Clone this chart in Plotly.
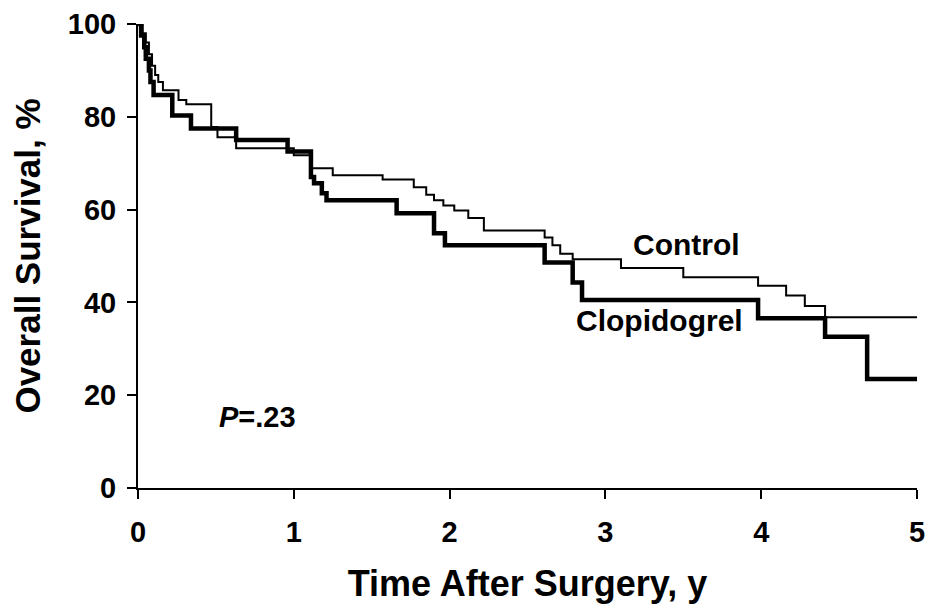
import plotly.graph_objects as go

# Kaplan-Meier step data (time in years, survival %)
control_t = [0, 0.03, 0.05, 0.07, 0.09, 0.11, 0.13, 0.16, 0.26, 0.31, 0.47, 0.51, 0.63,
             1.0, 1.11, 1.25, 1.57, 1.77, 1.85, 1.9, 1.96, 2.03, 2.12, 2.22, 2.61, 2.66,
             2.71, 2.79, 3.1, 3.5, 3.98, 4.16, 4.28, 4.41, 5.0]
control_s = [100, 98, 96, 93.5, 91, 89, 87.5, 85.7, 83.6, 82.7, 77.8, 75.6, 73.2,
             71.7, 68.9, 67.4, 66.5, 64.8, 63.2, 62, 60.9, 59.8, 58.2, 55.5, 54, 52.3,
             50.5, 49.3, 47.4, 45.4, 43.6, 41.5, 39.2, 36.8, 36.8]

clop_t = [0, 0.02, 0.04, 0.05, 0.07, 0.08, 0.10, 0.22, 0.34, 0.63, 0.96, 1.11, 1.13,
          1.18, 1.21, 1.66, 1.9, 1.97, 2.61, 2.79, 2.85, 3.98, 4.41, 4.68, 5.0]
clop_s = [100, 97.5, 95, 92.5, 90, 87.5, 84.7, 80.3, 77.5, 75, 72.5, 67, 65.7,
          63.5, 62, 59.2, 54.9, 52.3, 48.6, 44.3, 40.5, 36.6, 32.6, 23.5, 23.5]

x_ticks = [0, 1, 2, 3, 4, 5]
y_ticks = [0, 20, 40, 60, 80, 100]

FONT = "Liberation Sans, Arial, sans-serif"

fig = go.Figure()
fig.add_trace(go.Scatter(x=control_t, y=control_s, mode="lines", line_shape="hv",
                         line=dict(color="black", width=2), name="Control", cliponaxis=False))
fig.add_trace(go.Scatter(x=clop_t, y=clop_s, mode="lines", line_shape="hv",
                         line=dict(color="black", width=4.5), name="Clopidogrel", cliponaxis=False))

fig.add_annotation(x=3.52, y=52.4, text="<b>Control</b>", showarrow=False,
                   font=dict(family=FONT, size=30, color="black"))
fig.add_annotation(x=3.35, y=36.0, text="<b>Clopidogrel</b>", showarrow=False,
                   font=dict(family=FONT, size=30, color="black"))
fig.add_annotation(x=0.77, y=15.3, text="<b><i>P</i>=.23</b>", showarrow=False,
                   font=dict(family=FONT, size=29, color="black"))

# page body has an 8px margin, so the figure is sized to fit inside the window
fig.update_layout(
    width=926, height=600,
    margin=dict(l=130, r=17, t=16, b=120),
    paper_bgcolor="white", plot_bgcolor="white",
    showlegend=False,
    font=dict(family=FONT, color="black"),
)
fig.update_xaxes(
    range=[0, 5], tickvals=x_ticks, ticktext=[f"<b>{v}</b>" for v in x_ticks],
    showline=True, linecolor="black", linewidth=2, showgrid=False, zeroline=False,
    ticks="outside", ticklen=9, tickwidth=2, tickcolor="black", ticklabelstandoff=8,
    tickfont=dict(family=FONT, size=29, color="black"), automargin=False,
    title=dict(text="<b>Time After Surgery, y</b>", font=dict(family=FONT, size=36, color="black"),
               standoff=24),
)
fig.update_yaxes(
    range=[0, 100], tickvals=y_ticks, ticktext=[f"<b>{v}</b>" for v in y_ticks],
    showline=True, linecolor="black", linewidth=2, showgrid=False, zeroline=False,
    ticks="outside", ticklen=9, tickwidth=2, tickcolor="black", ticklabelstandoff=5,
    tickfont=dict(family=FONT, size=29, color="black"), automargin=False,
    title=dict(text="<b>Overall Survival, %</b>", font=dict(family=FONT, size=35, color="black"),
               standoff=22),
)

fig.write_html("out.html")
